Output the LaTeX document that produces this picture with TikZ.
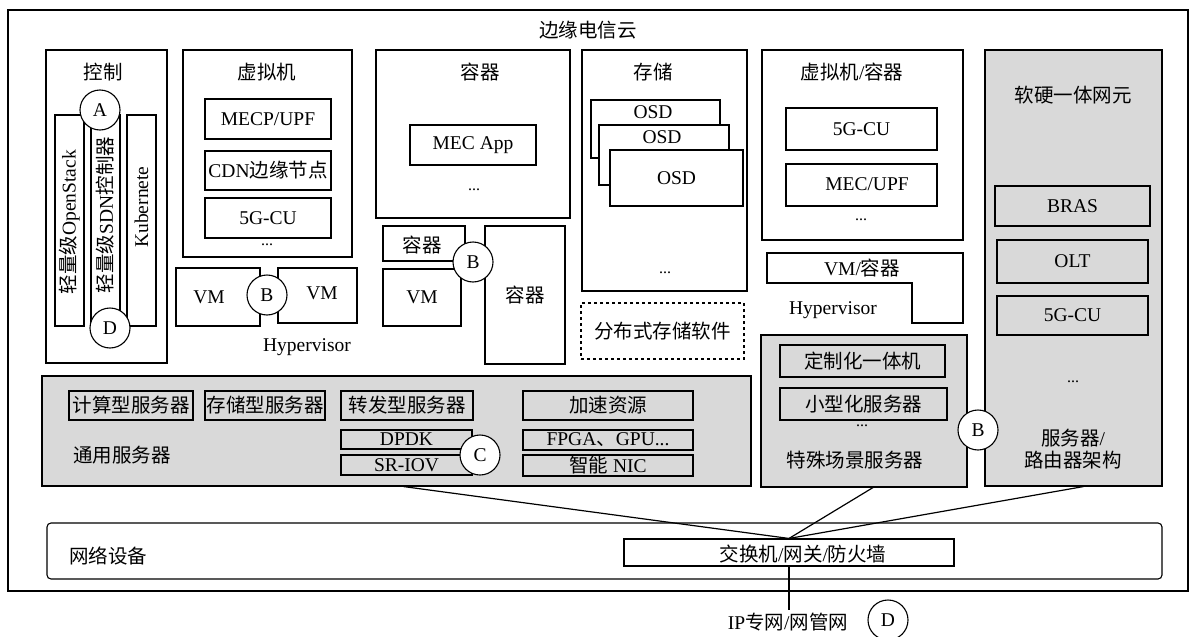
\documentclass[tikz,border=0pt]{standalone}
\usepackage{fontspec}
\setmainfont{Liberation Serif}
\newfontfamily\cjk{Noto Sans CJK SC}
\newcommand{\zh}[1]{{\cjk #1}}
\usetikzlibrary{calc}
\definecolor{boxgray}{RGB}{217,217,217}
\begin{document}
\begin{tikzpicture}[x=1pt,y=-1pt,
  every node/.style={font=\fontsize{19.5}{22}\selectfont, inner sep=0pt},
  box/.style={draw, line width=1.1pt, fill=white, inner sep=0pt},
  gbox/.style={box, fill=boxgray},
  circ/.style={draw, circle, fill=white, line width=1.1pt, minimum size=40, inner sep=0pt},
  conn/.style={line width=1.2pt},
  dotsl/.style={font=\fontsize{16}{18}\selectfont}]
\useasboundingbox (0,0) rectangle (1189,637);

% outer frame
\node[box, line width=1.5pt, minimum width=1180, minimum height=581] (outer) at (598,300.5) {};
\node (ttl) at (588,30) {\zh{边缘电信云}};

% ---------------- control
\node[box, minimum width=121, minimum height=313] (ctrl) at (106.5,206.5) {};
\node (ctrlt) at (103,72) {\zh{控制}};
\node[box, minimum width=29, minimum height=211] (bar1) at (69.5,220.5) {};
\node[box, minimum width=29, minimum height=211] (bar2) at (105.5,220.5) {};
\node[box, minimum width=29, minimum height=211] (bar3) at (141.5,220.5) {};
\node[rotate=90] (bar1t) at (69.5,222) {\zh{轻量级}OpenStack};
\node[rotate=90] (bar2t) at (105.5,215) {\zh{轻量级}SDN\zh{控制器}};
\node[rotate=90] (bar3t) at (141.5,207) {Kubernete};
\node[circ] (cA) at (100,110) {A};
\node[circ] (cD1) at (110,328) {D};

% ---------------- VM
\node[box, minimum width=169, minimum height=207] (vmb) at (267.5,153.5) {};
\node (vmt) at (267,72) {\zh{虚拟机}};
\node[box, minimum width=126, minimum height=40] (mecp) at (268,119) {MECP/UPF};
\node[box, minimum width=126, minimum height=39] (cdn) at (268,170.5) {CDN\zh{边缘节点}};
\node[box, minimum width=126, minimum height=40] (gcu1) at (268,218) {5G-CU};
\node[dotsl] (d1) at (267,245) {...};
\node[box, minimum width=84, minimum height=58] (vmL) at (218,297) {};
\node (vmLt) at (209,297) {VM};
\node[box, minimum width=79, minimum height=55] (vmR) at (317.5,295.5) {};
\node (vmRt) at (322,293) {VM};
\node[circ] (cB1) at (267,295) {B};
\node (hyp1) at (307,347) {Hypervisor};

% ---------------- containers
\node[box, minimum width=194, minimum height=168] (cont) at (473,134) {};
\node (contt) at (480,72) {\zh{容器}};
\node[box, minimum width=126, minimum height=40] (mecapp) at (473,145) {MEC App};
\node[dotsl] (d2) at (474,190) {...};
\node[box, minimum width=82, minimum height=35] (sc) at (424,243.5) {};
\node (sct) at (422,245) {\zh{容器}};
\node[box, minimum width=78, minimum height=57] (vm3) at (422,297.5) {VM};
\node[box, minimum width=80, minimum height=138] (bigc) at (525,295) {\zh{容器}};
\node[circ] (cB2) at (473,262) {B};

% ---------------- storage
\node[box, minimum width=165, minimum height=241] (stor) at (664.5,170.5) {};
\node (stort) at (653,72) {\zh{存储}};
\node[box, minimum width=129, minimum height=58] (osd1) at (655.5,129) {};
\node (osd1t) at (653,112) {OSD};
\node[box, minimum width=130, minimum height=60] (osd2) at (664,155) {};
\node (osd2t) at (662,137) {OSD};
\node[box, minimum width=133, minimum height=56] (osd3) at (676.5,178) {OSD};
\node[dotsl] (d3) at (665,273) {...};
\node[box, dashed, minimum width=163, minimum height=56] (dist) at (662.5,331) {\zh{分布式存储软件}};

% ---------------- VM / container
\node[box, minimum width=201, minimum height=190] (vmc) at (862.5,145) {};
\node (vmct) at (852,72) {\zh{虚拟机}/\zh{容器}};
\node[box, minimum width=151, minimum height=42] (gcu2) at (861.5,129) {5G-CU};
\node[box, minimum width=151, minimum height=42] (mecupf) at (861.5,185) {};
\node (mecupft) at (867,184) {MEC/UPF};
\node[dotsl] (d4) at (861,220) {...};
\draw[line width=1.1pt] (767,253) -- (963,253) -- (963,323) -- (912,323) -- (912,283) -- (767,283) -- cycle;
\node (vmct2) at (862,268) {VM/\zh{容器}};
\node (hyp2) at (833,310) {Hypervisor};

% ---------------- hardware NE
\node[gbox, minimum width=177, minimum height=436] (hw) at (1073.5,268) {};
\node (hwt) at (1073,95) {\zh{软硬一体网元}};
\node[gbox, minimum width=155, minimum height=40] (bras) at (1072.5,206) {BRAS};
\node[gbox, minimum width=151, minimum height=43] (olt) at (1072.5,261.5) {OLT};
\node[gbox, minimum width=151, minimum height=39] (gcu3) at (1072.5,315.5) {5G-CU};
\node[dotsl] (d5) at (1073,382) {...};
\node[align=center] (hwb) at (1073,449) {\zh{服务器}/\\\zh{路由器架构}};

% ---------------- special servers
\node[gbox, minimum width=206, minimum height=152] (spec) at (864,411) {};
\node[gbox, minimum width=165, minimum height=32] (dz) at (862.5,361) {\zh{定制化一体机}};
\node[gbox, minimum width=167, minimum height=32] (xx) at (863.5,404) {\zh{小型化服务器}};
\node[dotsl] (d6) at (862,426) {...};
\node (spect) at (855,460) {\zh{特殊场景服务器}};
\node[circ] (cB3) at (978,430) {B};

% ---------------- general servers
\node[gbox, minimum width=709, minimum height=110] (gen) at (396.5,431) {};
\node[gbox, minimum width=124, minimum height=29] (calcs) at (131,405.5) {\zh{计算型服务器}};
\node[gbox, minimum width=120, minimum height=29] (stors) at (265,405.5) {\zh{存储型服务器}};
\node[gbox, minimum width=132, minimum height=29] (fwd) at (407,405.5) {\zh{转发型服务器}};
\node[gbox, minimum width=131, minimum height=19] (dpdk) at (406.5,439.5) {DPDK};
\node[gbox, minimum width=131, minimum height=20] (sriov) at (406.5,465) {SR-IOV};
\node[circ] (cC) at (480,455) {C};
\node[gbox, minimum width=170, minimum height=29] (accel) at (608,405.5) {\zh{加速资源}};
\node[gbox, minimum width=170, minimum height=20] (fpga) at (608,440) {FPGA\zh{、}GPU...};
\node[gbox, minimum width=170, minimum height=21] (nic) at (608,465.5) {\zh{智能} NIC};
\node (gent) at (122,455) {\zh{通用服务器}};

% ---------------- network devices
\node[box, rounded corners=4pt, minimum width=1115, minimum height=56] (net) at (604.5,551) {};
\node (nett) at (108,556) {\zh{网络设备}};
\node[box, minimum width=330, minimum height=27] (sw) at (789,552.5) {};
\node (swt) at (803,554) {\zh{交换机}/\zh{网关}/\zh{防火墙}};

% ---------------- connectors
\draw[conn] ([xshift=7pt]gen.south) -- (sw.north);
\draw[conn] ([xshift=9pt]spec.south) -- (sw.north);
\draw[conn] ([xshift=10pt]hw.south) -- (sw.north);
\node[inner ysep=3pt] (ip) at (788,622) {IP\zh{专网}/\zh{网管网}};
\draw[conn] (sw.south) -- (sw.south |- ip.north);
\node[circ] (cD2) at (888,620) {D};
\end{tikzpicture}
\end{document}
